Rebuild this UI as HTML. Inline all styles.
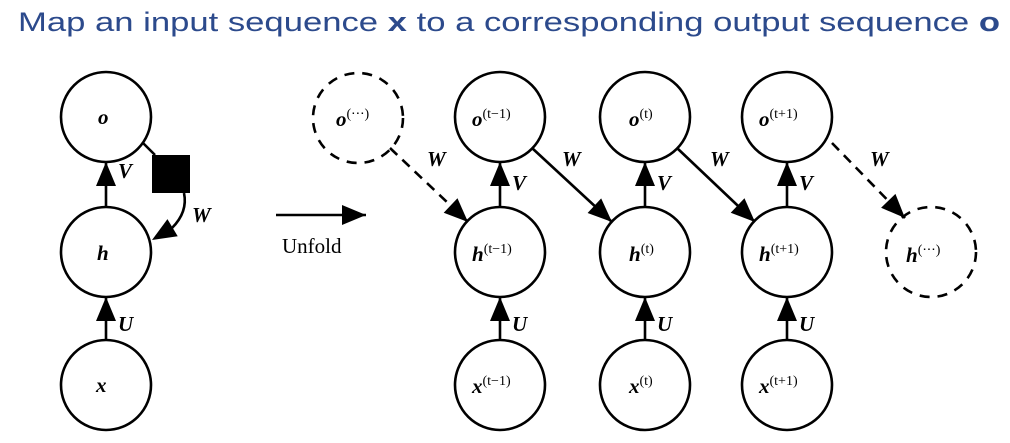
<!DOCTYPE html>
<html><head><meta charset="utf-8"><style>
body{margin:0;background:#fff;width:1010px;height:443px;overflow:hidden}
svg{display:block}
.t{font-family:"Liberation Serif",serif;font-weight:bold;font-style:italic;font-size:21px}
.s{font-family:"Liberation Serif",serif;font-style:normal;font-weight:normal;font-size:14px}
</style></head><body>
<svg width="1010" height="443" viewBox="0 0 1010 443">
<text x="18" y="31" font-family="Liberation Sans, sans-serif" font-size="27" fill="#2c4a8c" textLength="982" lengthAdjust="spacingAndGlyphs">Map an input sequence <tspan font-weight="bold">x</tspan> to a corresponding output sequence <tspan font-weight="bold">o</tspan></text>
<g id="g" stroke="#000" stroke-width="2.6" fill="none"></g>
<g id="lbl"></g>
</svg>
<script>
const NS='http://www.w3.org/2000/svg';
const g=document.getElementById('g'),L=document.getElementById('lbl');
function el(t,a,p){const e=document.createElementNS(NS,t);for(const k in a)e.setAttribute(k,a[k]);(p||g).appendChild(e);return e;}
const R=45;
function circ(x,y,dash,name){const c=el('circle',{cx:x,cy:y,r:R});if(dash)c.setAttribute('stroke-dasharray','10 8');

}
function head(x,y,ang,name){const l=24,w=10,dx=Math.cos(ang),dy=Math.sin(ang);
const p=el('polygon',{points:`${x},${y} ${x-l*dx-w*dy},${y-l*dy+w*dx} ${x-l*dx+w*dy},${y-l*dy-w*dx}`,fill:'#000',stroke:'none'});

}
function arrow(x1,y1,x2,y2,dash,name){const ln=el('line',{x1,y1,x2,y2});if(dash)ln.setAttribute('stroke-dasharray','10 7');


head(x2,y2,Math.atan2(y2-y1,x2-x1),name+'-head');}
function label(x,y,main,sup,name){const t=el('text',{x,y,class:'t'},L);t.textContent=main;
if(sup){const s=el('tspan',{class:'s',dy:-8},t);s.textContent=sup;}

}
// folded
circ(106,117,false,'node-o');circ(106,252,false,'node-h');circ(106,385,false,'node-x');
label(98,124,'o','','label-o');label(97,260,'h','','label-h');label(96,392,'x','','label-x');
arrow(106,207,106,162,false,'arrow-v');label(118,178,'V','','label-v');
arrow(106,340,106,297,false,'arrow-u');label(118,331,'U','','label-u');
el('line',{x1:143,y1:143,x2:155,y2:155});
const sq=el('rect',{x:152,y:155,width:38,height:38,fill:'#000',stroke:'none'});


el('path',{d:'M184,193 Q188,212 172,228'});
head(152,240,Math.atan2(12,-20),'arrow-w-loop-head');
label(192,222,'W','','label-w-loop');
// unfold
arrow(276,215,366,215,false,'unfold-arrow');
const u=el('text',{x:282,y:253,'font-family':'Liberation Serif, serif','font-size':'21'},L);u.textContent='Unfold';


// unrolled
const xs=[500,645,787],sups=['(t\u22121)','(t)','(t+1)'];
circ(358,118,true,'node-o-prev');label(336,126,'o','(\u22c5\u22c5\u22c5)','label-o-prev');
circ(931,252,true,'node-h-next');label(906,262,'h','(\u22c5\u22c5\u22c5)','label-h-next');
xs.forEach((x,i)=>{
 circ(x,117,false,'node-o-'+i);circ(x,252,false,'node-h-'+i);circ(x,385,false,'node-x-'+i);
 const off=sups[i].length>3?-28:-16;
 label(x+off,126,'o',sups[i],'label-o-'+i);label(x+off,261,'h',sups[i],'label-h-'+i);label(x+off,393,'x',sups[i],'label-x-'+i);
 arrow(x,207,x,162,false,'arrow-v-'+i);label(x+12,190,'V','','label-v-'+i);
 arrow(x,340,x,297,false,'arrow-u-'+i);label(x+12,331,'U','','label-u-'+i);
});
arrow(390,148,468,222,true,'arrow-w-prev');label(427,166,'W','','label-w-prev');
arrow(532,148,612,222,false,'arrow-w-0');label(562,166,'W','','label-w-0');
arrow(677,148,755,222,false,'arrow-w-1');label(710,166,'W','','label-w-1');
arrow(832,143,905,218,true,'arrow-w-2');label(870,166,'W','','label-w-2');
</script>
</body></html>
